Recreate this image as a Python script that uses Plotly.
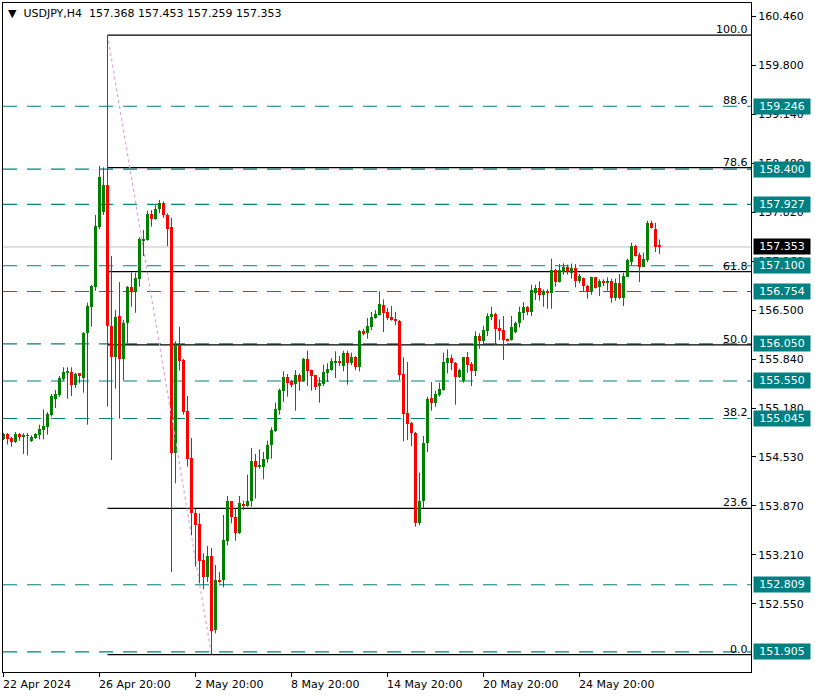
import plotly.graph_objects as go

# ---------------- data (USDJPY H4) ----------------
opens = [154.773,154.837,154.782,154.729,154.837,154.801,154.823,154.746,154.782,154.819,
         154.891,154.936,155.097,155.311,155.357,155.581,155.661,155.671,155.500,155.653,
         155.590,156.191,156.549,156.818,157.626,157.828,158.187,156.293,155.876,156.424,
         155.841,156.326,156.818,156.747,156.926,157.438,157.447,157.796,157.733,157.860,
         157.949,157.783,157.626,154.586,156.030,155.832,155.150,154.514,153.778,153.626,
         153.142,152.909,153.195,152.200,152.873,152.873,153.401,153.932,153.717,153.509,
         153.895,153.868,153.932,154.478,154.397,154.397,154.497,154.685,154.882,155.160,
         155.419,155.608,155.546,155.509,155.630,155.546,155.841,155.697,155.626,155.482,
         155.509,155.661,155.697,155.805,155.823,155.751,155.931,155.796,155.876,155.742,
         156.226,156.191,156.280,156.397,156.441,156.576,156.478,156.406,156.379,156.361,
         155.644,155.124,154.981,154.854,153.644,153.940,154.712,155.321,155.258,155.365,
         155.429,155.796,155.859,155.788,155.608,155.546,155.868,155.778,155.680,156.155,
         156.092,156.218,156.414,156.451,156.262,156.235,156.118,156.101,156.209,156.334,
         156.468,156.549,156.478,156.737,156.800,156.710,156.764,156.737,157.043,156.881,
         157.016,157.088,157.006,157.070,156.899,156.935,156.827,156.764,156.944,156.810,
         156.899,156.881,156.899,156.666,156.872,156.666,156.953,157.151,157.366,157.241,
         157.088,157.177,157.679,157.599,157.368]
highs = [154.850,154.850,154.796,154.864,154.850,154.846,154.850,154.819,154.850,154.962,
         155.169,155.133,155.375,155.429,155.617,155.734,155.734,155.734,155.661,155.657,
         156.209,156.603,156.841,157.783,158.442,158.424,160.204,157.231,156.504,156.881,
         156.370,156.827,157.006,157.006,157.483,157.581,157.841,157.850,157.913,157.985,
         157.965,157.806,157.743,156.083,156.280,155.846,155.348,154.783,153.824,153.770,
         153.232,153.330,153.303,153.074,152.981,153.747,154.003,153.936,153.842,154.003,
         153.940,154.289,154.649,154.568,154.631,154.595,154.747,154.927,155.258,155.446,
         155.680,155.644,155.563,155.697,155.653,155.859,155.957,155.704,155.630,155.599,
         155.769,155.788,155.859,155.949,155.886,155.957,155.957,155.931,155.886,156.235,
         156.253,156.397,156.478,156.504,156.756,156.648,156.531,156.558,156.478,156.370,
         155.868,155.805,154.999,154.864,154.316,154.810,155.338,155.536,155.419,155.527,
         155.931,155.976,155.903,155.805,155.715,155.868,155.940,155.805,156.218,156.191,
         156.289,156.460,156.549,156.468,156.379,156.424,156.121,156.424,156.352,156.549,
         156.612,156.558,156.845,156.845,156.890,156.783,156.783,157.195,157.060,157.123,
         157.133,157.115,157.130,157.123,156.989,156.942,156.845,156.953,156.949,156.917,
         156.917,156.944,156.926,156.926,156.989,157.006,157.195,157.410,157.383,157.276,
         157.276,157.706,157.706,157.679,157.453]
lows = [154.756,154.696,154.666,154.716,154.746,154.568,154.550,154.729,154.769,154.765,
        154.765,154.828,155.070,155.186,155.338,155.554,155.311,155.348,155.455,155.519,
        155.392,154.962,156.280,156.764,157.591,157.783,155.204,154.487,155.446,155.043,
        155.563,156.057,156.549,156.468,156.818,157.231,157.438,157.626,157.716,157.806,
        157.743,157.366,152.981,154.174,155.688,155.097,154.397,153.474,153.052,152.828,
        152.748,152.846,151.868,152.156,152.828,152.775,153.339,153.636,153.401,153.491,
        153.815,153.859,153.859,153.967,154.370,154.228,154.451,154.505,154.864,155.097,
        155.267,155.338,155.465,155.150,155.419,155.536,155.482,155.419,155.429,155.258,
        155.482,155.536,155.688,155.590,155.751,155.680,155.500,155.761,155.697,155.680,
        156.164,156.118,156.235,156.387,156.433,156.209,156.370,156.361,156.299,155.563,
        154.739,154.756,154.675,153.590,153.609,153.841,154.595,155.150,155.204,155.338,
        155.419,155.653,155.697,155.231,155.590,155.527,155.661,155.482,155.617,155.984,
        156.047,156.155,156.370,156.030,156.101,155.832,156.083,156.092,156.191,156.271,
        156.370,156.433,156.424,156.639,156.630,156.549,156.522,156.522,156.818,156.874,
        156.980,156.980,156.926,156.810,156.864,156.747,156.657,156.710,156.794,156.693,
        156.827,156.764,156.603,156.630,156.648,156.558,156.949,157.106,157.224,156.881,
        157.083,157.151,157.601,157.285,157.259]
closes = [154.837,154.773,154.729,154.837,154.801,154.823,154.810,154.792,154.837,154.899,
          154.945,155.106,155.348,155.375,155.590,155.671,155.671,155.500,155.644,155.617,
          156.199,156.558,156.827,157.635,158.290,158.187,156.293,155.876,156.414,155.841,
          156.326,156.818,156.747,156.935,157.456,157.464,157.796,157.733,157.868,157.949,
          157.779,157.599,154.586,156.030,155.823,155.133,154.497,153.770,153.609,153.132,
          152.909,153.195,152.191,152.873,152.855,153.411,153.932,153.717,153.509,153.913,
          153.868,153.932,154.478,154.397,154.407,154.497,154.685,154.891,155.169,155.429,
          155.608,155.527,155.492,155.626,155.550,155.841,155.688,155.617,155.473,155.527,
          155.671,155.715,155.814,155.823,155.788,155.922,155.796,155.868,155.742,156.226,
          156.182,156.289,156.414,156.451,156.585,156.468,156.397,156.370,156.352,155.634,
          155.106,154.972,154.846,153.644,153.940,154.720,155.311,155.258,155.375,155.437,
          155.805,155.859,155.788,155.608,155.697,155.868,155.760,155.680,156.155,156.092,
          156.235,156.424,156.451,156.253,156.226,156.101,156.092,156.280,156.334,156.478,
          156.549,156.478,156.774,156.800,156.702,156.764,156.737,157.043,156.881,157.043,
          157.088,157.016,157.070,156.899,156.962,156.827,156.764,156.944,156.800,156.899,
          156.872,156.899,156.666,156.872,156.666,156.962,157.177,157.366,157.231,157.088,
          157.187,157.679,157.608,157.356,157.353]

xtick_idx = [0, 24, 48, 72, 96, 120, 144]
xtick_labels = ["22 Apr 2024", "26 Apr 20:00", "2 May 20:00", "8 May 20:00",
                "14 May 20:00", "20 May 20:00", "24 May 20:00"]
ytick_vals = [160.460, 159.800, 159.140, 158.480, 157.820, 157.160, 156.500,
              155.840, 155.180, 154.530, 153.870, 153.210, 152.550]
levels = [159.246, 158.400, 157.927, 157.100, 156.754, 156.050, 155.550, 155.045, 152.809, 151.905]
fib_names = ["100.0", "88.6", "78.6", "61.8", "50.0", "38.2", "23.6", "0.0"]
fib_prices = [160.204, 159.254, 158.420, 157.020, 156.036, 155.052, 153.835, 151.868]
fib_solid = [True, False, True, True, True, False, True, True]
fib_start_bar, fib_end_bar = 26, 52
fib_high, fib_low = 160.204, 151.868
bid = 157.353
header = "▼\u00a0\u00a0USDJPY,H4\u00a0\u00a0157.368\u00a0157.453\u00a0157.259\u00a0157.353"

# ---------------- build ----------------
FONT = "DejaVu Sans"
GREEN, RED, TEAL = "#008000", "#FF0000", "#008080"
n = len(opens)
idx = list(range(n))
up = [c >= o for o, c in zip(opens, closes)]

fig = go.Figure()

# fib trend line (dotted)
fig.add_trace(go.Scatter(x=[fib_start_bar, fib_end_bar], y=[fib_high, fib_low], mode="lines",
                         line=dict(color="#DDA0DD", width=1.2, dash="dot"), hoverinfo="skip"))

# wicks
for flag, col in [(True, GREEN), (False, RED)]:
    wx, wy = [], []
    for i in idx:
        if up[i] == flag:
            wx += [i, i, None]
            wy += [lows[i], highs[i], None]
    fig.add_trace(go.Scatter(x=wx, y=wy, mode="lines", line=dict(color=col, width=1),
                             hoverinfo="skip"))

# bodies
fig.add_trace(go.Bar(x=idx, y=[abs(c - o) for o, c in zip(opens, closes)],
                     base=[min(o, c) for o, c in zip(opens, closes)], width=0.78,
                     marker=dict(color=[GREEN if u else RED for u in up], line=dict(width=0)),
                     hoverinfo="skip"))

shapes = []
shapes.append(dict(type="line", xref="paper", x0=0, x1=1, yref="y", y0=bid, y1=bid,
                   line=dict(color="#C0C0C0", width=1), layer="below"))
for lv in levels:
    shapes.append(dict(type="line", xref="paper", x0=0, x1=1, yref="y", y0=lv, y1=lv,
                       line=dict(color=TEAL, width=1.2, dash="14px,10px"), layer="below"))
for p, solid in zip(fib_prices, fib_solid):
    if solid:
        shapes.append(dict(type="line", xref="x", x0=fib_start_bar, x1=186.875, yref="y", y0=p, y1=p,
                           line=dict(color="black", width=1.3), layer="below"))

ann = []
for name, p in zip(fib_names, fib_prices):
    ann.append(dict(xref="paper", x=1, xanchor="right", xshift=-1, yref="y", y=p, yanchor="bottom",
                    yshift=-3, text=name, showarrow=False, font=dict(family=FONT, size=11, color="black")))
for lv in levels:
    ann.append(dict(xref="paper", x=1, xanchor="left", xshift=2, yref="y", y=lv, yanchor="middle",
                    text=f"{lv:.3f}", showarrow=False, bgcolor=TEAL, width=54, height=13, borderpad=1,
                    font=dict(family=FONT, size=11, color="white")))
ann.append(dict(xref="paper", x=1, xanchor="left", xshift=2, yref="y", y=bid, yanchor="middle",
                text=f"{bid:.3f}", showarrow=False, bgcolor="black", width=54, height=13, borderpad=1,
                font=dict(family=FONT, size=11, color="white")))
for xi, lab in zip(xtick_idx, xtick_labels):
    ann.append(dict(xref="x", x=xi, xanchor="left", xshift=-3, yref="paper", y=0, yanchor="top",
                    yshift=-4, text=lab, showarrow=False, font=dict(family=FONT, size=11, color="black")))
ann.append(dict(xref="paper", x=0, xanchor="left", xshift=3, yref="paper", y=1, yanchor="top",
                yshift=-2, text=header, showarrow=False, font=dict(family=FONT, size=11, color="#000000")))

fig.update_layout(
    width=815, height=696,
    margin=dict(l=3, r=64, t=3, b=24),
    paper_bgcolor="white", plot_bgcolor="white",
    showlegend=False, bargap=0,
    shapes=shapes, annotations=ann,
    xaxis=dict(range=[-0.125, 186.875], tickvals=xtick_idx, ticktext=[""] * len(xtick_idx),
               ticks="outside", ticklen=4, tickcolor="black", showgrid=False, zeroline=False,
               showline=True, mirror=True, linecolor="black", linewidth=1, fixedrange=True),
    yaxis=dict(side="right", range=[151.635, 160.635], tickvals=ytick_vals,
               ticktext=[f"{v:.3f}" for v in ytick_vals], ticks="outside", ticklen=4,
               tickcolor="black", showgrid=False, zeroline=False, showline=True, mirror=True,
               linecolor="black", linewidth=1, tickfont=dict(family=FONT, size=11, color="black")),
)

fig.write_html("out.html", config={"displayModeBar": False},
               post_script="document.body.style.margin='0px';document.body.style.overflow='hidden';")
